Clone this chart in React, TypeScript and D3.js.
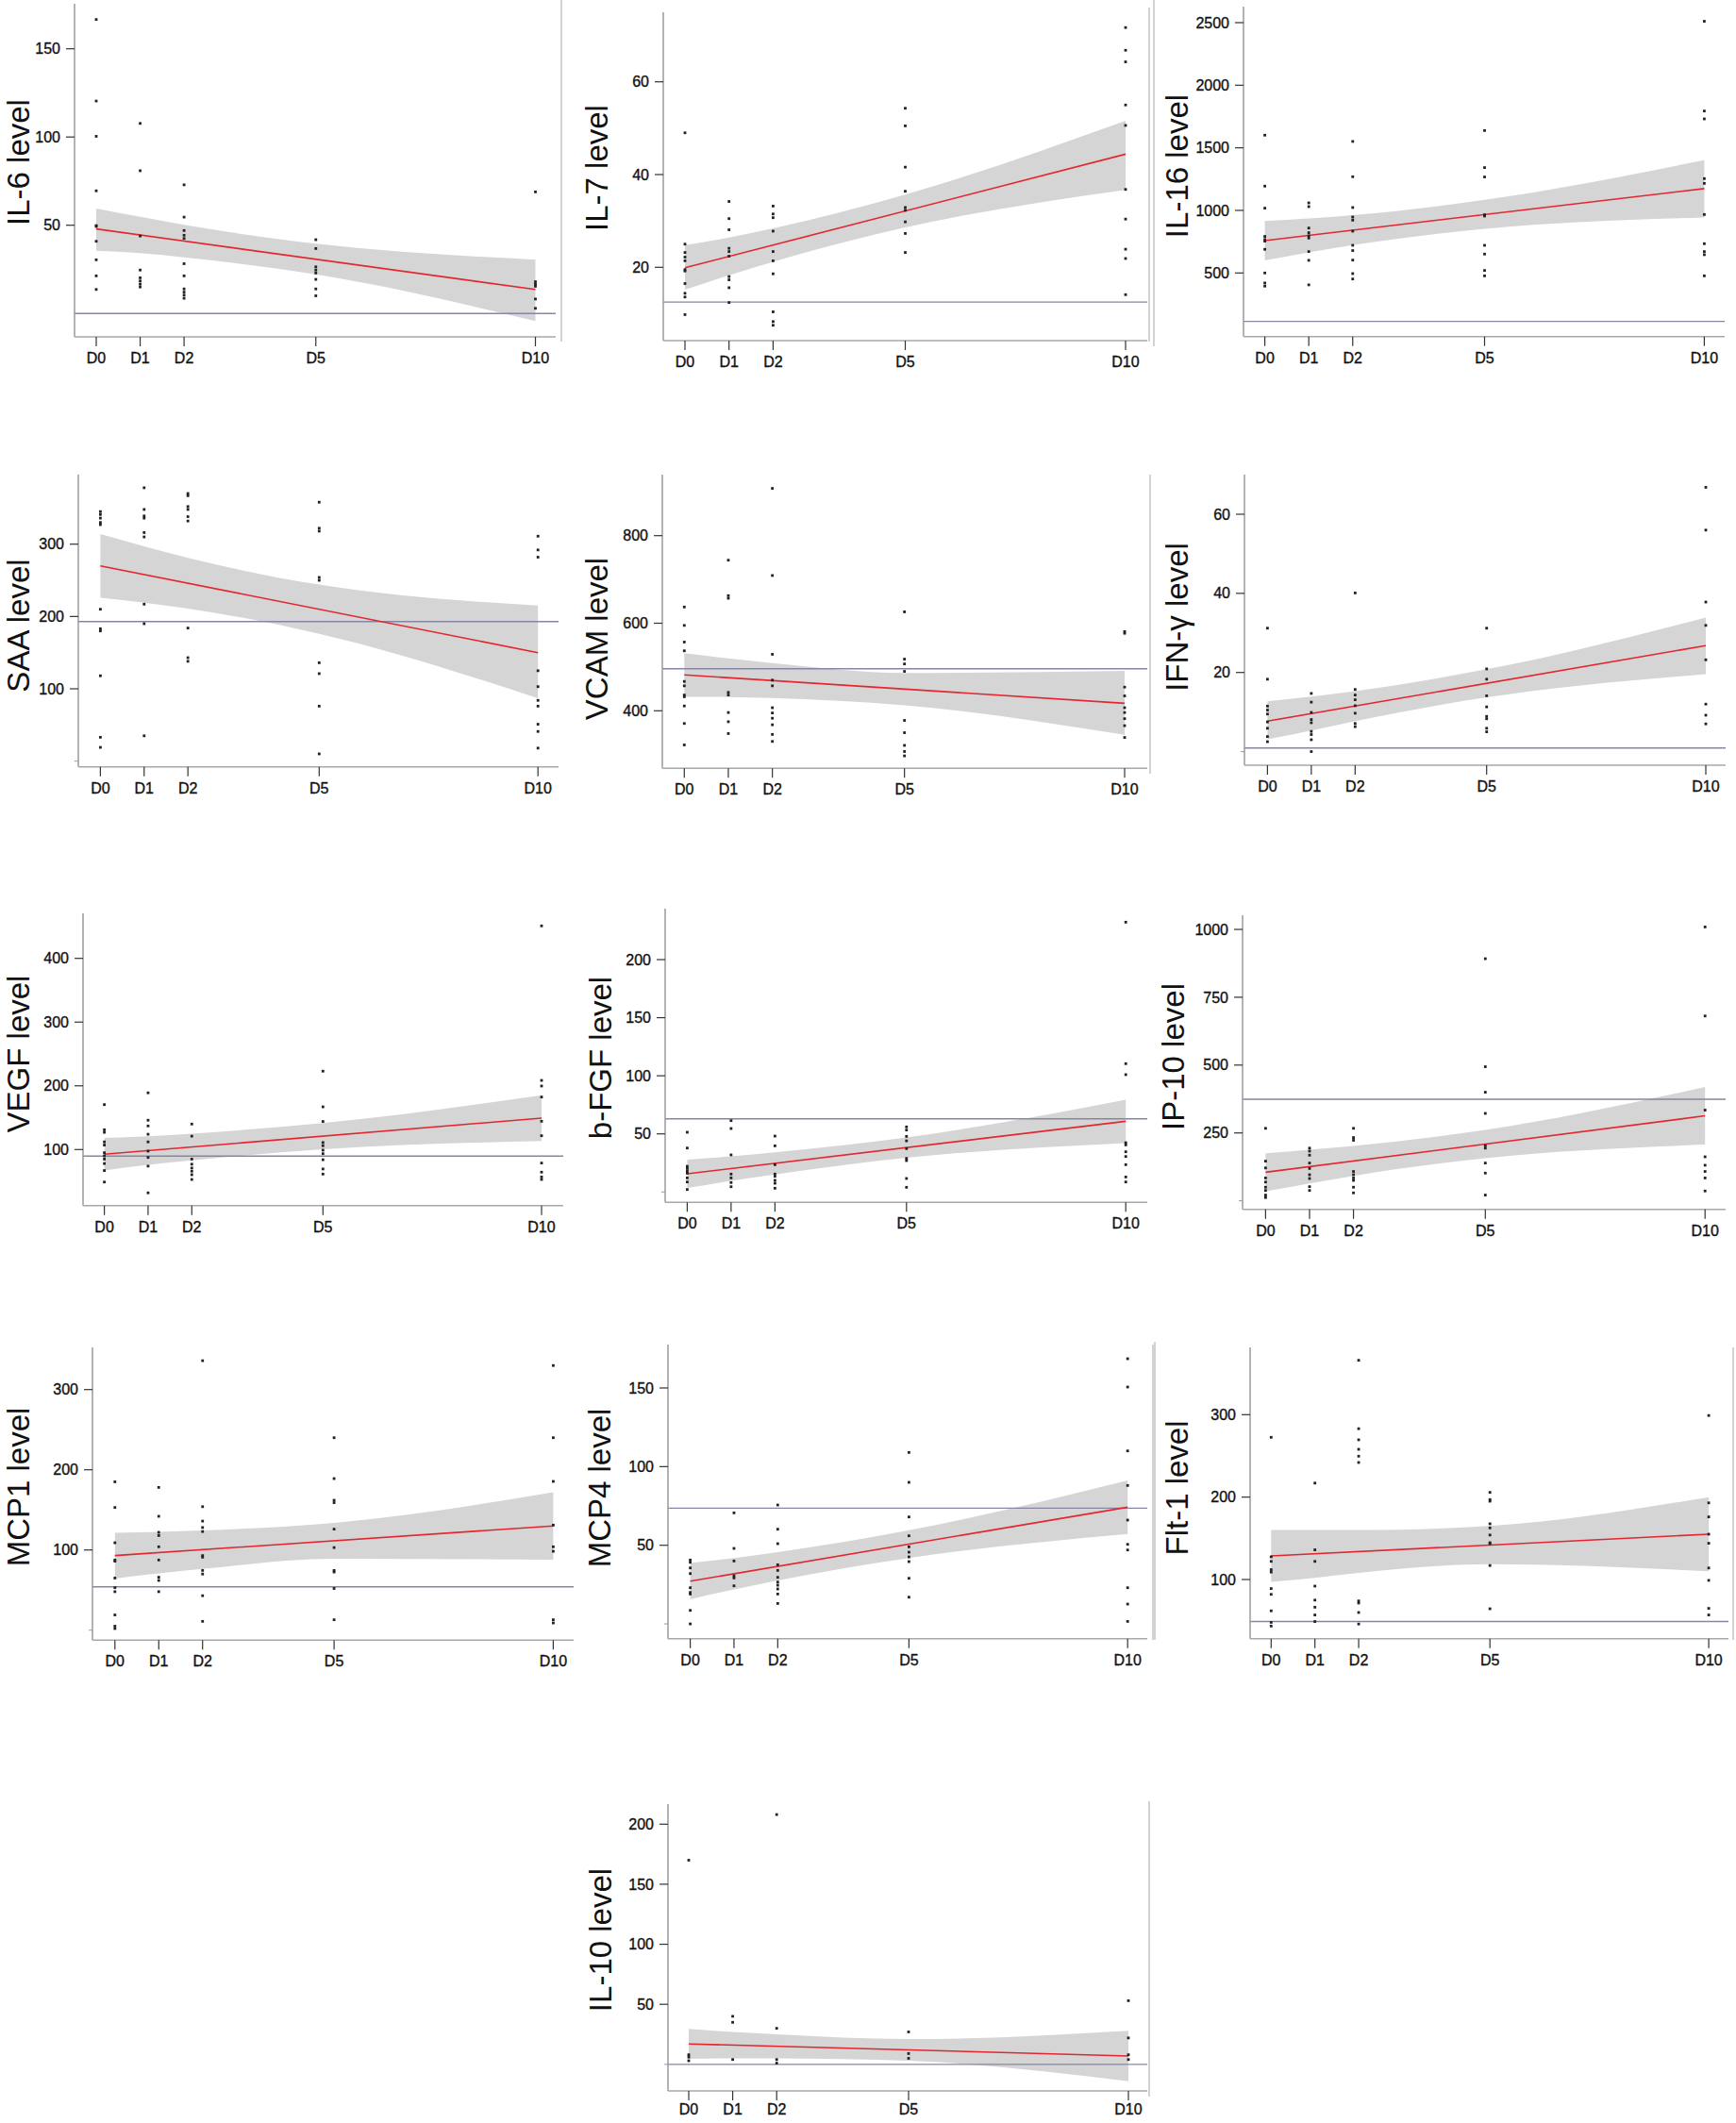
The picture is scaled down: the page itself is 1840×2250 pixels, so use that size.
import React from "react";
import * as d3 from "d3";

const days = [0, 1, 2, 5, 10];
const dayLabels = ["D0", "D1", "D2", "D5", "D10"];

// ---------- data (values per day: D0, D1, D2, D5, D10) ----------
const il6Values = [
  [166.6, 120.4, 100.4, 69.5, 49.8, 49.3, 40.9, 30.4, 21.3, 13.6],
  [107.7, 80.9, 43.9, 24.6, 20.2, 18.4, 16.6, 15.0],
  [72.9, 54.6, 47, 44.3, 42.5, 28.2, 21.3, 13.9, 12.1, 10.4, 8.6],
  [41.8, 36.8, 26.4, 24.6, 22.9, 19.3, 13.9, 10],
  [68.9, 18, 16.6, 15.4, 8.2, 2.9],
];
const il6Fit = [47.9, 13.6];
const il6Lower = [35.5, 34.2, 31.8, 22.1, -4.3];
const il6Upper = [59.5, 54.8, 50.2, 39.5, 30.5];
const il6Ref = 0;
const il6Ticks = [50, 100, 150];

const il7Values = [
  [49, 25, 23.2, 22.2, 21.4, 19.5, 19.2, 16.5, 14.4, 13.6, 9.8],
  [34.2, 30.5, 28.1, 24.1, 23.4, 22.4, 18, 17.3, 15.6, 12.4],
  [33.2, 31.5, 30.7, 27.8, 23.4, 21.4, 18.6, 10.4, 8.3, 7.5],
  [54.3, 50.5, 41.6, 36.4, 32.9, 32.3, 29.8, 27.3, 23.2],
  [71.7, 66.8, 64.3, 55, 50.6, 36.8, 30.4, 23.9, 21.9, 14.1],
];
const il7Fit = [19.9, 44.4];
const il7Lower = [15.2, 18.3, 21.2, 28.6, 36.7];
const il7Upper = [24.8, 26.4, 28.4, 35.7, 51.6];
const il7Ref = 12.5;
const il7Ticks = [20, 40, 60];

const il16Values = [
  [1601, 1194, 1018, 792, 767, 754, 689, 500, 420, 395],
  [1060, 1030, 859, 822, 797, 779, 671, 601, 405],
  [1551, 1269, 1023, 947, 922, 834, 721, 679, 603, 495, 452],
  [1638, 1342, 1267, 965, 955, 721, 651, 520, 477],
  [2511, 1794, 1731, 1254, 1216, 967, 734, 671, 646, 477],
];
const il16Fit = [759, 1174];
const il16Lower = [601, 665, 722, 852, 944];
const il16Upper = [915, 935, 962, 1084, 1402];
const il16Ref = 113;
const il16Ticks = [500, 1000, 1500, 2000, 2500];

const saaValues = [
  [345, 341, 336, 330, 327, 210, 183, 180, 118, 33, 19],
  [378, 348, 339, 336, 316, 310, 217, 190, 35],
  [370, 367, 352, 348, 338, 332, 184, 143, 138],
  [358, 322, 318, 254, 250, 136, 121, 76, 10],
  [311, 292, 282, 125, 103, 84, 76, 51, 41, 18],
];
const saaFit = [270, 150];
const saaLower = [226, 219, 211, 176, 87];
const saaUpper = [314, 297, 281, 244, 215];
const saaRef = 193;
const saaTicks = [100, 200, 300];

const vcamValues = [
  [637, 595, 557, 537, 467, 457, 436, 432, 411, 371, 322],
  [744, 663, 657, 442, 436, 396, 375, 348],
  [908, 709, 529, 470, 457, 407, 395, 383, 368, 346, 330],
  [626, 518, 507, 490, 378, 350, 321, 307, 297],
  [581, 577, 454, 434, 407, 396, 382, 366, 339],
];
const vcamFit = [482, 417];
const vcamLower = [432, 431.5, 429, 412.5, 345];
const vcamUpper = [531.5, 519.5, 509, 486.5, 491];
const vcamRef = 496;
const vcamTicks = [400, 600, 800];

const ifnValues = [
  [31.2, 18.3, 11.5, 10.5, 9.5, 7.5, 5.9, 3.8, 2.5],
  [14.7, 12.5, 9.9, 8.1, 7.3, 5.1, 4.3, 3.0, 0],
  [40.1, 15.7, 14.3, 13.1, 11.6, 9.7, 7.1, 6.3],
  [31.2, 20.9, 18.3, 14.1, 11.3, 8.9, 8.3, 5.9, 5.0],
  [66.8, 56, 37.8, 31.9, 23.2, 12.0, 9.2, 7.0],
];
const ifnFit = [7.7, 26.8];
const ifnLower = [3.1, 5.3, 7.7, 13.7, 19.6];
const ifnUpper = [12.7, 13.9, 15.3, 20.8, 33.9];
const ifnRef = 0.9;
const ifnTicks = [20, 40, 60];

const vegfValues = [
  [170.5, 131, 127, 112, 107, 95, 90, 85, 78, 67, 49],
  [189, 146, 137, 124, 112, 97.5, 87.6, 74, 32],
  [140, 121, 85, 77, 71, 66, 60.5, 53],
  [223, 167, 144, 111, 106, 99, 93.5, 84, 69.5, 61.5],
  [451, 208.5, 199.7, 182.4, 144.4, 121.7, 78.8, 64.5, 57, 53],
];
const vegfFit = [92.7, 149.3];
const vegfLower = [67.2, 75.9, 83, 100.5, 113.3];
const vegfUpper = [118.2, 120.9, 125, 141.5, 185.3];
const vegfRef = 89.6;
const vegfTicks = [100, 200, 300, 400];

const bfgfValues = [
  [51.4, 37.8, 22.1, 20.2, 18, 16.2, 12.1, 8.6, 2.1],
  [61.4, 54.6, 31.9, 15.4, 12.1, 8.1, 4.5],
  [48.1, 39.7, 23.5, 15.4, 13.5, 10, 7.5, 3.2],
  [56, 53.3, 47.8, 44, 37.3, 28.9, 27, 11.6, 4],
  [232.2, 110.4, 101, 42.4, 40.5, 34.6, 30.5, 23.5, 12.9, 8.6],
];
const bfgfFit = [15.6, 60.8];
const bfgfLower = [3.4, 9.6, 15.1, 29.4, 42.1];
const bfgfUpper = [27.8, 30.6, 34.1, 47, 79.5];
const bfgfRef = 63;
const bfgfTicks = [50, 100, 150, 200];

const ip10Values = [
  [267, 146, 121, 84, 69, 50, 38, 21, 12],
  [194, 183, 168, 139, 119, 96, 82, 52, 38],
  [267, 233, 223, 108, 96, 84, 75, 50, 29],
  [892, 494, 400, 322, 203, 194, 139, 102, 21],
  [1009, 681, 334, 162, 131, 108, 84, 36],
];
const ip10Fit = [105, 313];
const ip10Lower = [35, 64, 92, 157, 207];
const ip10Upper = [175, 188, 202, 261, 419];
const ip10Ref = 374;
const ip10Ticks = [250, 500, 750, 1000];

const mcp1Values = [
  [185, 153, 109, 87.5, 86, 65, 53, 48, 19, 5, 2],
  [178, 142, 122, 118, 104, 87.5, 66, 62, 48],
  [336, 154, 136, 128, 123, 93, 91, 74.5, 70, 43, 11],
  [240, 189, 162, 159, 126, 103, 74.5, 72.5, 52, 13],
  [330, 240, 185.5, 131, 104, 98.4, 13, 9],
];
const mcp1Fit = [93, 130];
const mcp1Lower = [64.5, 70.7, 76.4, 89.2, 88];
const mcp1Upper = [121.5, 122.7, 124.4, 133.8, 172];
const mcp1Ref = 54;
const mcp1Ticks = [100, 200, 300];

const mcp4Values = [
  [40.6, 39.2, 35.6, 32, 23, 20, 19, 8.6, 0],
  [70.6, 48, 40, 30.6, 29.2, 24.2],
  [75.6, 60.2, 51, 37.6, 34, 29.6, 26.6, 24.6, 22.2, 19, 13],
  [109, 90, 68, 56, 49, 45.6, 42.6, 39.6, 29, 17],
  [168.6, 150.6, 110, 88, 66, 50.6, 47, 23, 12.6, 1.6],
];
const mcp4Fit = [27.2, 74.2];
const mcp4Lower = [15.7, 21.9, 27.6, 41.9, 57.2];
const mcp4Upper = [38.7, 41.9, 45.6, 59.5, 91.2];
const mcp4Ref = 73.6;
const mcp4Ticks = [50, 100, 150];

const flt1Values = [
  [272.5, 127.5, 122, 112, 109, 89, 82, 62, 48, 43.5],
  [217, 136, 122, 92, 75, 66.4, 57, 49],
  [366, 283, 269.5, 258, 249.6, 242, 74, 71.4, 60, 46],
  [205.7, 197, 195, 167.6, 162.6, 154, 144.7, 143.5, 117, 64.5],
  [299, 193, 176, 155, 144, 114, 99, 65, 57],
];
const flt1Fit = [128.6, 155];
const flt1Lower = [97, 102, 108, 118.5, 110];
const flt1Upper = [160, 160, 160, 165, 200];
const flt1Ref = 49;
const flt1Ticks = [100, 200, 300];

const il10Values = [
  [170, 8, 6, 3],
  [40, 35, 4],
  [208, 30, 4, 1],
  [27, 9, 5],
  [53, 22, 8, 4],
];
const il10Fit = [17, 7];
const il10Lower = [4.5, 5, 5, 3, -14];
const il10Upper = [29.5, 27, 25, 21, 28];
const il10Ref = 0;
const il10Ticks = [50, 100, 150, 200];

// ---------- layout ----------
const layouts = [
  { axisX: 79, x0: 102, x10: 567.5, xEnd: 589, top: 4, bottom: 357, tA: [150, 51.7], tB: [50, 238.7], labelX: 31, labelY: 172, zero: false, labOff: 28 },
  { axisX: 703, x0: 726, x10: 1193, xEnd: 1216, top: 13, bottom: 361, tA: [60, 86.7], tB: [20, 283.3], labelX: 644, labelY: 178, zero: false, labOff: 28 },
  { axisX: 1318, x0: 1340.6, x10: 1806.4, xEnd: 1828, top: 7, bottom: 356.7, tA: [2500, 24], tB: [500, 289.3], labelX: 1259, labelY: 176, zero: false, labOff: 28 },
  { axisX: 83, x0: 106.4, x10: 570.2, xEnd: 592, top: 503, bottom: 812.7, tA: [300, 576.7], tB: [100, 730], labelX: 31, labelY: 663, zero: true, labOff: 28 },
  { axisX: 702, x0: 725.3, x10: 1192, xEnd: 1216, top: 503, bottom: 814.3, tA: [800, 567.7], tB: [400, 753.3], labelX: 644, labelY: 677, zero: false, labOff: 28 },
  { axisX: 1319, x0: 1343.4, x10: 1808, xEnd: 1829, top: 503, bottom: 811, tA: [60, 545], tB: [20, 712.7], labelX: 1259, labelY: 654, zero: true, labOff: 28 },
  { axisX: 88, x0: 110.6, x10: 574, xEnd: 597, top: 968, bottom: 1277.7, tA: [400, 1015.7], tB: [100, 1218.3], labelX: 31, labelY: 1117, zero: false, labOff: 28 },
  { axisX: 705, x0: 728.4, x10: 1193.2, xEnd: 1216, top: 963, bottom: 1274.3, tA: [200, 1017], tB: [50, 1201.7], labelX: 648, labelY: 1121, zero: true, labOff: 28 },
  { axisX: 1317, x0: 1341.4, x10: 1807.2, xEnd: 1829, top: 970, bottom: 1281.7, tA: [1000, 985], tB: [250, 1200.7], labelX: 1255, labelY: 1120, zero: true, labOff: 28 },
  { axisX: 98, x0: 121.8, x10: 586.4, xEnd: 608, top: 1428, bottom: 1738.3, tA: [300, 1472.7], tB: [100, 1642.7], labelX: 31, labelY: 1576, zero: true, labOff: 28 },
  { axisX: 708, x0: 731.6, x10: 1195.2, xEnd: 1216, top: 1425, bottom: 1736.7, tA: [150, 1471], tB: [50, 1637.7], labelX: 647, labelY: 1577, zero: true, labOff: 28 },
  { axisX: 1325, x0: 1347.3, x10: 1811.1, xEnd: 1832, top: 1428, bottom: 1736.7, tA: [300, 1499.3], tB: [100, 1674], labelX: 1259, labelY: 1577, zero: false, labOff: 28 },
  { axisX: 708, x0: 730, x10: 1196, xEnd: 1216, top: 1912, bottom: 2216, tA: [200, 1933.3], tB: [50, 2124.2], labelX: 648, labelY: 2056, zero: true, labOff: 25 },
];

const separators = [
  { x: 595, y1: 0, y2: 362 },
  { x: 1218, y1: 8, y2: 362 },
  { x: 1223, y1: 0, y2: 367 },
  { x: 1219, y1: 503, y2: 820 },
  { x: 1222, y1: 1425, y2: 1738 },
  { x: 1224, y1: 1422, y2: 1738 },
  { x: 1837, y1: 1428, y2: 1738 },
  { x: 1218, y1: 1909, y2: 2222 },
];

const panels = [
  { title: "IL-6 level", values: il6Values, fit: il6Fit, lower: il6Lower, upper: il6Upper, ref: il6Ref, ticks: il6Ticks },
  { title: "IL-7 level", values: il7Values, fit: il7Fit, lower: il7Lower, upper: il7Upper, ref: il7Ref, ticks: il7Ticks },
  { title: "IL-16 level", values: il16Values, fit: il16Fit, lower: il16Lower, upper: il16Upper, ref: il16Ref, ticks: il16Ticks },
  { title: "SAA level", values: saaValues, fit: saaFit, lower: saaLower, upper: saaUpper, ref: saaRef, ticks: saaTicks },
  { title: "VCAM level", values: vcamValues, fit: vcamFit, lower: vcamLower, upper: vcamUpper, ref: vcamRef, ticks: vcamTicks },
  { title: "IFN-γ level", values: ifnValues, fit: ifnFit, lower: ifnLower, upper: ifnUpper, ref: ifnRef, ticks: ifnTicks },
  { title: "VEGF level", values: vegfValues, fit: vegfFit, lower: vegfLower, upper: vegfUpper, ref: vegfRef, ticks: vegfTicks },
  { title: "b-FGF level", values: bfgfValues, fit: bfgfFit, lower: bfgfLower, upper: bfgfUpper, ref: bfgfRef, ticks: bfgfTicks },
  { title: "IP-10 level", values: ip10Values, fit: ip10Fit, lower: ip10Lower, upper: ip10Upper, ref: ip10Ref, ticks: ip10Ticks },
  { title: "MCP1 level", values: mcp1Values, fit: mcp1Fit, lower: mcp1Lower, upper: mcp1Upper, ref: mcp1Ref, ticks: mcp1Ticks },
  { title: "MCP4 level", values: mcp4Values, fit: mcp4Fit, lower: mcp4Lower, upper: mcp4Upper, ref: mcp4Ref, ticks: mcp4Ticks },
  { title: "Flt-1 level", values: flt1Values, fit: flt1Fit, lower: flt1Lower, upper: flt1Upper, ref: flt1Ref, ticks: flt1Ticks },
  { title: "IL-10 level", values: il10Values, fit: il10Fit, lower: il10Lower, upper: il10Upper, ref: il10Ref, ticks: il10Ticks },
];

const FONT = "'Liberation Sans', Arial, Helvetica, sans-serif";

function Panel({ p, l }: { p: any; l: any }) {
  const x = d3.scaleLinear().domain([0, 10]).range([l.x0, l.x10]);
  const y = d3.scaleLinear().domain([l.tA[0], l.tB[0]]).range([l.tA[1], l.tB[1]]);
  const bandData = days.map((d, i) => ({ d, lo: p.lower[i], hi: p.upper[i] }));
  const area = d3
    .area<any>()
    .x((e) => x(e.d))
    .y0((e) => y(e.lo))
    .y1((e) => y(e.hi))
    .curve(d3.curveMonotoneX);
  const line = d3
    .line<any>()
    .x((e) => x(e[0]))
    .y((e) => y(e[1]));
  const fitPts = [
    [0, p.fit[0]],
    [10, p.fit[1]],
  ];
  return (
    <g>
      <path d={area(bandData) || ""} fill="#d5d5d5" />
      <line x1={l.axisX} x2={l.xEnd} y1={y(p.ref)} y2={y(p.ref)} stroke="#8686a2" strokeWidth={1.4} />
      <path d={line(fitPts as any) || ""} fill="none" stroke="#e3262f" strokeWidth={1.6} />
      {p.values.map((vals: number[], i: number) =>
        vals.map((v, j) => (
          <rect key={i + "-" + j} x={x(days[i]) - 1.4} y={y(v) - 1.4} width={2.8} height={2.8} fill="#222" />
        ))
      )}
      {/* axes */}
      <line x1={l.axisX} x2={l.axisX} y1={l.top} y2={l.bottom} stroke="#9a9a9a" strokeWidth={1.5} />
      <line x1={l.axisX} x2={l.xEnd} y1={l.bottom} y2={l.bottom} stroke="#a8a8a8" strokeWidth={1.5} />
      {p.ticks.map((t: number) => (
        <g key={"yt" + t}>
          <line x1={l.axisX - 9} x2={l.axisX} y1={y(t)} y2={y(t)} stroke="#333" strokeWidth={1.2} />
          <text x={l.axisX - 15} y={y(t)} dy="0.35em" textAnchor="end" fontSize={16} fontFamily={FONT} fill="#111" stroke="#111" strokeWidth={0.35}>
            {t}
          </text>
        </g>
      ))}
      {l.zero && <line x1={l.axisX - 4} x2={l.axisX} y1={y(0)} y2={y(0)} stroke="#999" strokeWidth={1} />}
      {days.map((d, i) => (
        <g key={"xt" + d}>
          <line x1={x(d)} x2={x(d)} y1={l.bottom} y2={l.bottom + 10} stroke="#333" strokeWidth={1.2} />
          <text x={x(d)} y={l.bottom + l.labOff} textAnchor="middle" fontSize={16} fontFamily={FONT} fill="#111" stroke="#111" strokeWidth={0.35}>
            {dayLabels[i]}
          </text>
        </g>
      ))}
      <text
        transform={`translate(${l.labelX},${l.labelY}) rotate(-90)`}
        textAnchor="middle"
        fontSize={33}
        fontFamily={FONT}
        fill="#111"
      >
        {p.title}
      </text>
    </g>
  );
}

export default function App() {
  return (
    <svg
      width={1840}
      height={2250}
      style={{ position: "absolute", left: 0, top: 0, background: "#fff" }}
      xmlns="http://www.w3.org/2000/svg"
    >
      <rect width={1840} height={2250} fill="#fff" />
      {separators.map((s, i) => (
        <line key={"s" + i} x1={s.x} x2={s.x} y1={s.y1} y2={s.y2} stroke="#b5b5b5" strokeWidth={1.2} />
      ))}
      {panels.map((p, i) => (
        <Panel key={p.title} p={p} l={layouts[i]} />
      ))}
    </svg>
  );
}
